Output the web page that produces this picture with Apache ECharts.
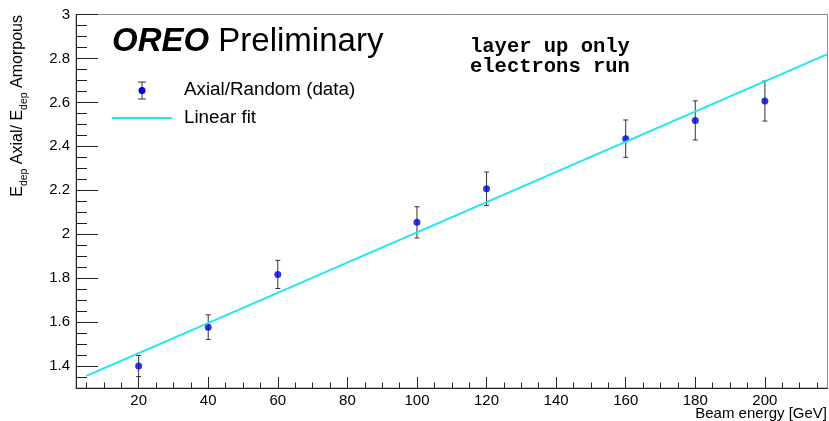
<!DOCTYPE html>
<html><head><meta charset="utf-8">
<script src="https://cdn.jsdelivr.net/npm/echarts@6/dist/echarts.min.js"></script>
<style>html,body{margin:0;padding:0;background:#fff}#c{width:829px;height:421px}</style>
</head><body><div id="c"></div>
<script>
// ---- data ----
const energies = [20, 40, 60, 100, 120, 160, 180, 200];          // Beam energy [GeV]
const ratios = [1.400, 1.577, 1.817, 2.054, 2.207, 2.435, 2.518, 2.606];
const ratioErrors = [0.048, 0.056, 0.064, 0.071, 0.076, 0.085, 0.089, 0.091];
const fitX = [5, 218];
const fitY = [1.355, 2.820];
const xRange = [2, 218];
const yRange = [1.3, 3];
const xTicks = [20, 40, 60, 80, 100, 120, 140, 160, 180, 200];
const xMinorTicks = [5, 10, 15, 25, 30, 35, 45, 50, 55, 65, 70, 75, 85, 90, 95, 105, 110, 115,
  125, 130, 135, 145, 150, 155, 165, 170, 175, 185, 190, 195, 205, 210, 215];
const yTicks = [1.4, 1.6, 1.8, 2, 2.2, 2.4, 2.6, 2.8, 3];
const yMinorTicks = [1.35, 1.45, 1.5, 1.55, 1.65, 1.7, 1.75, 1.85, 1.9, 1.95, 2.05, 2.1, 2.15,
  2.25, 2.3, 2.35, 2.45, 2.5, 2.55, 2.65, 2.7, 2.75, 2.85, 2.9, 2.95];
const seriesNames = ['Axial/Random (data)', 'Linear fit'];

// ---- styling ----
const FONT = 'Liberation Sans, Arial, Helvetica, sans-serif';
const AXIS = '#222';
const CYAN = '#1ee6f0';
const BLUE = '#0000e0';

const points = energies.map((e, i) => [e, ratios[i], ratioErrors[i]]);
const fitLine = fitX.map((x, i) => [x, fitY[i]]);

const chart = echarts.init(document.getElementById('c'), null, {renderer: 'canvas'});
chart.setOption({
  animation: false,
  backgroundColor: '#fff',
  grid: {left: 76, right: 1.5, top: 14.5, bottom: 33, show: true, borderColor: '#8a8a8a', borderWidth: 1, backgroundColor: 'transparent'},
  xAxis: [
    {type: 'value', min: xRange[0], max: xRange[1], position: 'bottom',
      axisLine: {lineStyle: {color: AXIS, width: 1}},
      axisTick: {inside: true, length: 11, customValues: xTicks, lineStyle: {color: AXIS}},
      axisLabel: {customValues: xTicks, margin: 5, fontSize: 15, color: '#000', fontFamily: FONT},
      splitLine: {show: false}},
    {type: 'value', min: xRange[0], max: xRange[1], position: 'bottom',
      axisLine: {show: false},
      axisTick: {inside: true, length: 5.5, customValues: xMinorTicks, lineStyle: {color: AXIS}},
      axisLabel: {show: false}, splitLine: {show: false}}
  ],
  yAxis: [
    {type: 'value', min: yRange[0], max: yRange[1], position: 'left',
      axisLine: {show: true, lineStyle: {color: AXIS, width: 1}},
      axisTick: {show: true, inside: true, length: 22, customValues: yTicks, lineStyle: {color: AXIS}},
      axisLabel: {customValues: yTicks, margin: 6, fontSize: 15, color: '#000', fontFamily: FONT},
      splitLine: {show: false}},
    {type: 'value', min: yRange[0], max: yRange[1], position: 'left',
      axisLine: {show: false},
      axisTick: {show: true, inside: true, length: 11, customValues: yMinorTicks, lineStyle: {color: AXIS}},
      axisLabel: {show: false}, splitLine: {show: false}}
  ],
  series: [
    {
      name: seriesNames[0] + ' errors', type: 'custom', xAxisIndex: 0, yAxisIndex: 0, z: 2,
      data: points,
      renderItem: function (params, api) {
        const x = api.value(0), y = api.value(1), err = api.value(2);
        const top = api.coord([x, y + err]);
        const bot = api.coord([x, y - err]);
        const cap = 2.5;
        const st = {stroke: '#333', lineWidth: 1};
        return {type: 'group', children: [
          {type: 'line', shape: {x1: top[0], y1: top[1], x2: bot[0], y2: bot[1]}, style: st},
          {type: 'line', shape: {x1: top[0] - cap, y1: top[1], x2: top[0] + cap, y2: top[1]}, style: st},
          {type: 'line', shape: {x1: bot[0] - cap, y1: bot[1], x2: bot[0] + cap, y2: bot[1]}, style: st}
        ]};
      }
    },
    {
      name: seriesNames[0], type: 'scatter', xAxisIndex: 0, yAxisIndex: 0, z: 3,
      data: points.map(p => [p[0], p[1]]), symbol: 'circle', symbolSize: 7,
      itemStyle: {color: BLUE}
    },
    {
      name: seriesNames[1], type: 'line', xAxisIndex: 0, yAxisIndex: 0, z: 4,
      data: fitLine, showSymbol: false, symbol: 'none',
      lineStyle: {color: CYAN, width: 2}
    }
  ],
  graphic: [
    {type: 'text', x: 112, y: 42, z: 10, style: {
      text: '{b|OREO}{r| Preliminary}', verticalAlign: 'middle', align: 'left',
      rich: {
        b: {fontFamily: FONT, fontSize: 33, fontWeight: 'bold', fontStyle: 'italic', fill: '#000'},
        r: {fontFamily: FONT, fontSize: 33, fill: '#000'}
      }}},
    {type: 'text', x: 470, y: 57, z: 10, style: {
      text: 'layer up only\nelectrons run', fontFamily: 'Liberation Mono, monospace', fontSize: 20.5,
      fontWeight: 'bold', lineHeight: 20, fill: '#000', verticalAlign: 'middle', align: 'left'}},
    // legend
    {type: 'line', z: 10, shape: {x1: 142, y1: 82, x2: 142, y2: 99}, style: {stroke: '#333', lineWidth: 1}},
    {type: 'line', z: 10, shape: {x1: 138, y1: 82, x2: 146, y2: 82}, style: {stroke: '#333', lineWidth: 1}},
    {type: 'line', z: 10, shape: {x1: 138, y1: 99, x2: 146, y2: 99}, style: {stroke: '#333', lineWidth: 1}},
    {type: 'circle', z: 11, shape: {cx: 142, cy: 90.5, r: 3.5}, style: {fill: BLUE}},
    {type: 'text', x: 184, y: 90, z: 10, style: {text: seriesNames[0], fontFamily: FONT, fontSize: 18.8,
      fill: '#000', verticalAlign: 'middle', align: 'left'}},
    {type: 'line', z: 10, shape: {x1: 112, y1: 118, x2: 172, y2: 118}, style: {stroke: CYAN, lineWidth: 2}},
    {type: 'text', x: 184, y: 118, z: 10, style: {text: seriesNames[1], fontFamily: FONT, fontSize: 18.8,
      fill: '#000', verticalAlign: 'middle', align: 'left'}},
    // axis titles
    {type: 'text', x: 827, y: 413.5, z: 10, style: {text: 'Beam energy [GeV]', fontFamily: FONT, fontSize: 15,
      fill: '#000', verticalAlign: 'middle', align: 'right'}},
    {type: 'text', x: 18, y: 15, rotation: Math.PI / 2, z: 10, style: {
      text: '{m|E}{s|dep}{m| Axial/ E}{s|dep}{m| Amorpous}', align: 'right', verticalAlign: 'middle',
      rich: {
        m: {fontFamily: FONT, fontSize: 16, lineHeight: 24, verticalAlign: 'middle', fill: '#000'},
        s: {fontFamily: FONT, fontSize: 10.5, lineHeight: 24, verticalAlign: 'bottom', fill: '#000'}
      }}}
  ]
});
</script></body></html>
